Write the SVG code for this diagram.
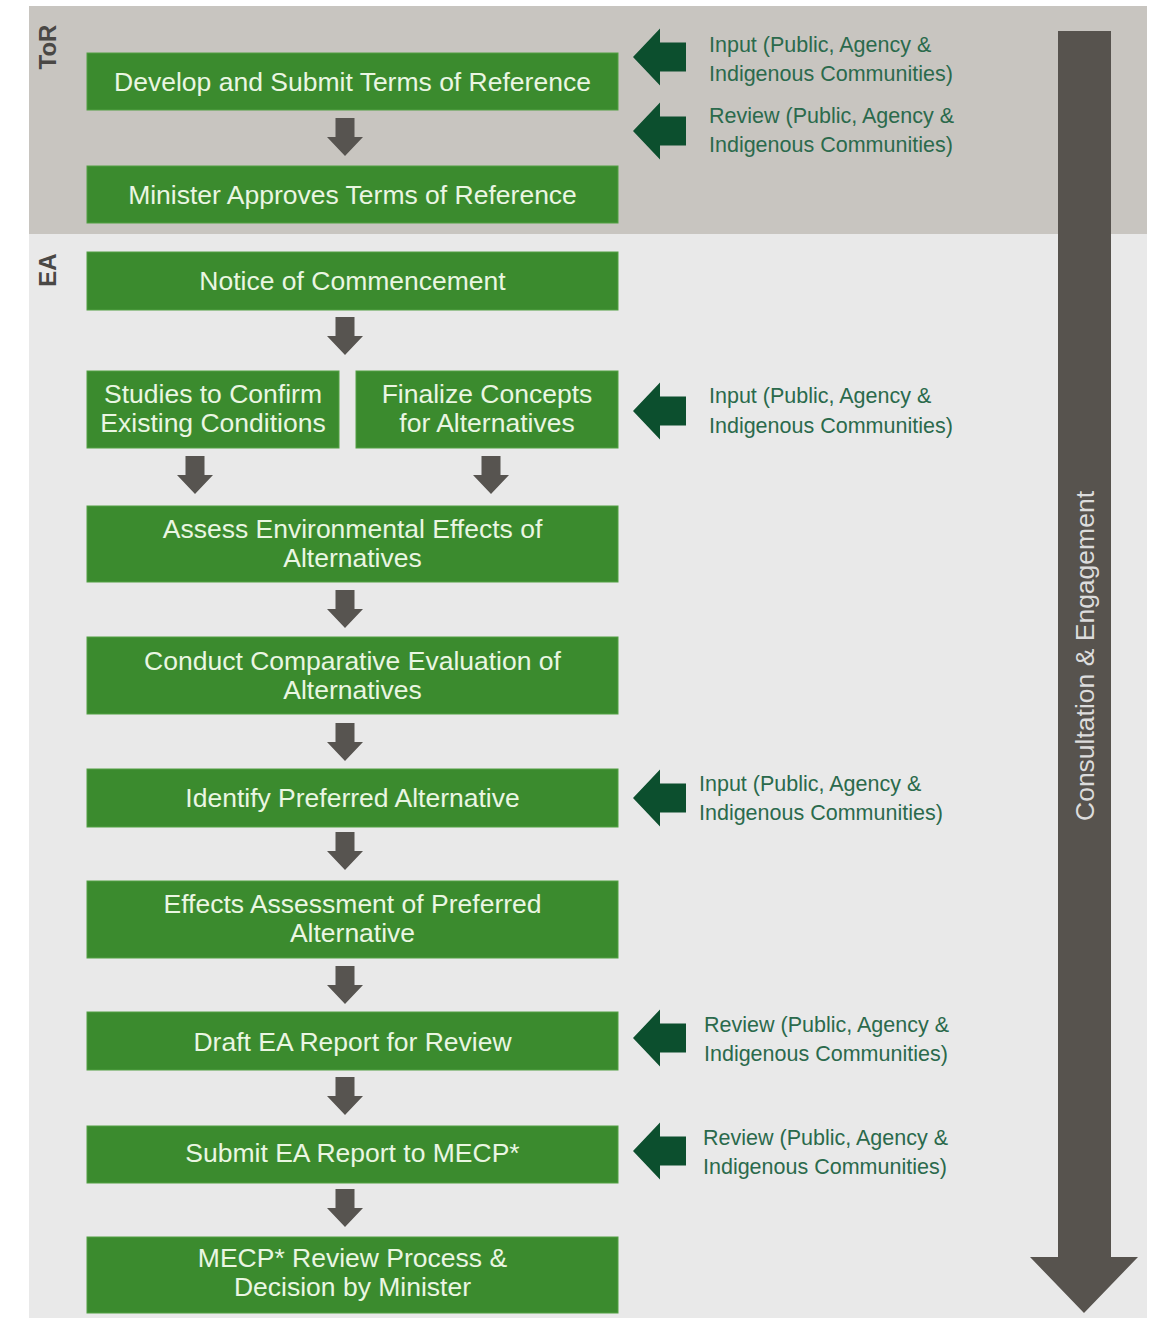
<svg xmlns="http://www.w3.org/2000/svg" xmlns:xlink="http://www.w3.org/1999/xlink" width="1158" height="1318" viewBox="0 0 1158 1318">
<style>
.box{fill:#3b8b2e;stroke:#52a043;stroke-width:1}
.bt{font-family:"Liberation Sans",Arial,sans-serif;font-size:26.5px;fill:#eaf6e2;text-anchor:middle}
.side{font-family:"Liberation Sans",Arial,sans-serif;font-size:21.5px;fill:#2b6a4c}
.phase{font-family:"Liberation Sans",Arial,sans-serif;font-size:24px;font-weight:bold;fill:#4a4845;text-anchor:middle}
.down{fill:#575450}
.left{fill:#0c4f2e}
</style>
<defs>
<path id="dn" d="M-9.5 0H9.5V19H18L0 38L-18 19H-9.5Z"/>
<path id="lf" d="M0 0L27 -28.5V-14.5H53V14.5H27V28.5Z"/>
</defs>
<rect width="1158" height="1318" fill="#ffffff"/>
<rect x="29" y="6" width="1118" height="228" fill="#c8c5c0"/>
<rect x="29" y="234" width="1118" height="1084" fill="#e9e9e9"/>
<text class="phase" transform="translate(56,47) rotate(-90)">ToR</text>
<text class="phase" transform="translate(56,270) rotate(-90)">EA</text>

<g id="consultation">
<path d="M1058 31H1111V1257H1138L1084 1313L1030 1257H1058Z" fill="#57534e"/>
<text transform="translate(1094,656) rotate(-90)" font-family="'Liberation Sans',Arial,sans-serif" font-size="26.5" fill="#dcdcdc" text-anchor="middle">Consultation &amp; Engagement</text>
</g>

<g id="connectors">
<use href="#dn" class="down" x="345" y="118"/>
<use href="#dn" class="down" x="345" y="317"/>
<use href="#dn" class="down" x="195" y="456"/>
<use href="#dn" class="down" x="491" y="456"/>
<use href="#dn" class="down" x="345" y="590"/>
<use href="#dn" class="down" x="345" y="723"/>
<use href="#dn" class="down" x="345" y="832"/>
<use href="#dn" class="down" x="345" y="966"/>
<use href="#dn" class="down" x="345" y="1077"/>
<use href="#dn" class="down" x="345" y="1189"/>
<use href="#lf" class="left" x="633" y="57"/>
<use href="#lf" class="left" x="633" y="131"/>
<use href="#lf" class="left" x="633" y="411"/>
<use href="#lf" class="left" x="633" y="798"/>
<use href="#lf" class="left" x="633" y="1038"/>
<use href="#lf" class="left" x="633" y="1151"/>
</g>

<g id="n-develop"><rect class="box" x="87" y="53" width="531" height="57"/><text class="bt" x="352.5" y="91">Develop and Submit Terms of Reference</text></g>
<g id="n-approve"><rect class="box" x="87" y="166" width="531" height="57"/><text class="bt" x="352.5" y="204">Minister Approves Terms of Reference</text></g>
<g id="n-notice"><rect class="box" x="87" y="252" width="531" height="58"/><text class="bt" x="352.5" y="290">Notice of Commencement</text></g>
<g id="n-studies"><rect class="box" x="87" y="371" width="252" height="77"/><text class="bt" x="213" y="403">Studies to Confirm</text><text class="bt" x="213" y="432">Existing Conditions</text></g>
<g id="n-finalize"><rect class="box" x="356" y="371" width="262" height="77"/><text class="bt" x="487" y="403">Finalize Concepts</text><text class="bt" x="487" y="432">for Alternatives</text></g>
<g id="n-assess"><rect class="box" x="87" y="506" width="531" height="76"/><text class="bt" x="352.5" y="538">Assess Environmental Effects of</text><text class="bt" x="352.5" y="566.5">Alternatives</text></g>
<g id="n-conduct"><rect class="box" x="87" y="637" width="531" height="77"/><text class="bt" x="352.5" y="670">Conduct Comparative Evaluation of</text><text class="bt" x="352.5" y="698.5">Alternatives</text></g>
<g id="n-identify"><rect class="box" x="87" y="769" width="531" height="58"/><text class="bt" x="352.5" y="807">Identify Preferred Alternative</text></g>
<g id="n-effects"><rect class="box" x="87" y="881" width="531" height="77"/><text class="bt" x="352.5" y="913">Effects Assessment of Preferred</text><text class="bt" x="352.5" y="942">Alternative</text></g>
<g id="n-draft"><rect class="box" x="87" y="1012" width="531" height="58"/><text class="bt" x="352.5" y="1051">Draft EA Report for Review</text></g>
<g id="n-submit"><rect class="box" x="87" y="1126" width="531" height="57"/><text class="bt" x="352.5" y="1162">Submit EA Report to MECP*</text></g>
<g id="n-mecp"><rect class="box" x="87" y="1237" width="531" height="76"/><text class="bt" x="352.5" y="1267">MECP* Review Process &amp;</text><text class="bt" x="352.5" y="1295.5">Decision by Minister</text></g>

<g id="l-input1"><text class="side" x="709" y="52">Input (Public, Agency &amp;</text><text class="side" x="709" y="81">Indigenous Communities)</text></g>
<g id="l-review1"><text class="side" x="709" y="123">Review (Public, Agency &amp;</text><text class="side" x="709" y="152">Indigenous Communities)</text></g>
<g id="l-input2"><text class="side" x="709" y="403">Input (Public, Agency &amp;</text><text class="side" x="709" y="433">Indigenous Communities)</text></g>
<g id="l-input3"><text class="side" x="699" y="791">Input (Public, Agency &amp;</text><text class="side" x="699" y="820">Indigenous Communities)</text></g>
<g id="l-review2"><text class="side" x="704" y="1032">Review (Public, Agency &amp;</text><text class="side" x="704" y="1061">Indigenous Communities)</text></g>
<g id="l-review3"><text class="side" x="703" y="1145">Review (Public, Agency &amp;</text><text class="side" x="703" y="1174">Indigenous Communities)</text></g>
</svg>
